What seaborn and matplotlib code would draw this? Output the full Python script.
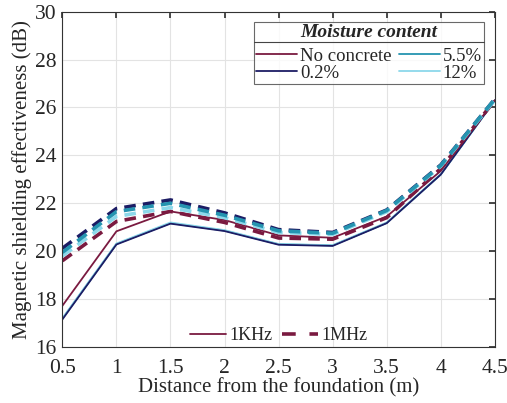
import matplotlib
matplotlib.use("Agg")
import matplotlib.pyplot as plt
from matplotlib.lines import Line2D
import pandas as pd
import seaborn as sns

# distances (m)
distance = [0.5, 1, 1.5, 2, 2.5, 3, 3.5, 4, 4.5]

# 1 kHz curves (dB)
khz_none = [17.72, 20.83, 21.66, 21.30, 20.66, 20.56, 21.45, 23.35, 26.30]
khz_02 = [17.15, 20.28, 21.15, 20.84, 20.27, 20.22, 21.17, 23.20, 26.30]
khz_55 = [17.18, 20.30, 21.17, 20.86, 20.29, 20.24, 21.18, 23.20, 26.30]
khz_12 = [17.20, 20.32, 21.20, 20.88, 20.30, 20.25, 21.20, 23.22, 26.28]

# 1 MHz curves (dB)
mhz_none = [19.60, 21.24, 21.66, 21.20, 20.55, 20.50, 21.40, 23.45, 26.30]
mhz_02 = [20.12, 21.78, 22.14, 21.60, 20.90, 20.78, 21.72, 23.60, 26.35]
mhz_55 = [19.95, 21.65, 22.00, 21.50, 20.85, 20.75, 21.70, 23.58, 26.35]
mhz_12 = [19.80, 21.45, 21.82, 21.40, 20.78, 20.70, 21.65, 23.55, 26.32]

moisture = ["No concrete", "0.2%", "5.5%", "12%"]
colors = {"No concrete": "#7a1a40", "0.2%": "#1c1c64", "5.5%": "#2594b0", "12%": "#8cd8ea"}

rows = []
for freq, series in [("1KHz", [khz_none, khz_02, khz_55, khz_12]),
                     ("1MHz", [mhz_none, mhz_02, mhz_55, mhz_12])]:
    for m, vals in zip(moisture, series):
        for d, v in zip(distance, vals):
            rows.append({"distance": d, "se": v, "moisture": m, "freq": freq})
df = pd.DataFrame(rows)

sns.set_theme(style="whitegrid")
plt.rcParams["font.family"] = ["Liberation Serif", "DejaVu Serif"]

fig = plt.figure(figsize=(5.07, 4.03), dpi=100)
ax = fig.add_axes([0.123, 0.139, 0.853, 0.832])

dash = (0, (3.2, 2.0))
curves = [("1KHz", 1.3, "-", ["5.5%", "12%", "0.2%", "No concrete"]),
          ("1MHz", 2.6, dash, ["No concrete", "0.2%", "12%", "5.5%"])]
for freq, lw, ls, order in curves:
    for m in order:
        sub = df[(df.freq == freq) & (df.moisture == m)]
        sns.lineplot(data=sub, x="distance", y="se", ax=ax, color=colors[m],
                     lw=lw, linestyle=ls, legend=False)

ax.set_xlim(0.5, 4.5)
ax.set_ylim(16, 30)
ax.set_xticks(distance)
ax.set_xticklabels(["0.5", "1", "1.5", "2", "2.5", "3", "3.5", "4", "4.5"])
ax.set_yticks(range(16, 31, 2))
ax.set_xlabel("Distance from the foundation (m)", fontsize=15, labelpad=0)
ax.set_ylabel("Magnetic shielding effectiveness (dB)", fontsize=15, labelpad=2)
ax.tick_params(labelsize=15.5, direction="in", length=4, top=True, right=True,
               color="#333333", pad=4)
ax.tick_params(axis="x", pad=9)
ax.grid(True, color="#e3e3e3", lw=0.8)
for s in ax.spines.values():
    s.set_color("#333333")
    s.set_linewidth(0.8)

handles = [Line2D([], [], color=colors[m], lw=1.3) for m in moisture]
leg = ax.legend(handles, moisture,
                ncol=2, loc="upper right", bbox_to_anchor=(0.9746, 0.970),
                borderaxespad=0,
                fontsize=13.5, frameon=True, fancybox=False, edgecolor="#444444",
                handlelength=2.2, handletextpad=0.15, columnspacing=0.4,
                labelspacing=0.0, borderpad=0.1,
                title="Moisture content",
                title_fontproperties={"weight": "bold", "style": "italic", "size": 14})
leg.get_frame().set_linewidth(0.8)
leg._legend_box.sep = 5
ax.add_artist(leg)

fh = [Line2D([], [], color=colors["No concrete"], lw=1.3),
      Line2D([], [], color=colors["No concrete"], lw=2.6, linestyle=(0, (3.8, 3.8)))]
ax.legend(fh, ["1KHz", "1MHz"], ncol=2, loc="lower center",
          bbox_to_anchor=(0.5, -0.014), borderaxespad=0, frameon=False, fontsize=13,
          handlelength=2.0, handletextpad=0.2, columnspacing=0.5)

# separator line under the legend title
fig.canvas.draw()
r = fig.canvas.get_renderer()
fb = leg.get_frame().get_window_extent(r)
tb = leg.get_title().get_window_extent(r)
inv = fig.transFigure.inverted()
(x0, y0) = inv.transform((fb.x0, tb.y0 - 1))
(x1, _) = inv.transform((fb.x1, tb.y0 - 1))
fig.add_artist(Line2D([x0, x1], [y0, y0], color="#444444", lw=0.8))

fig.savefig("out.png", dpi=100)
